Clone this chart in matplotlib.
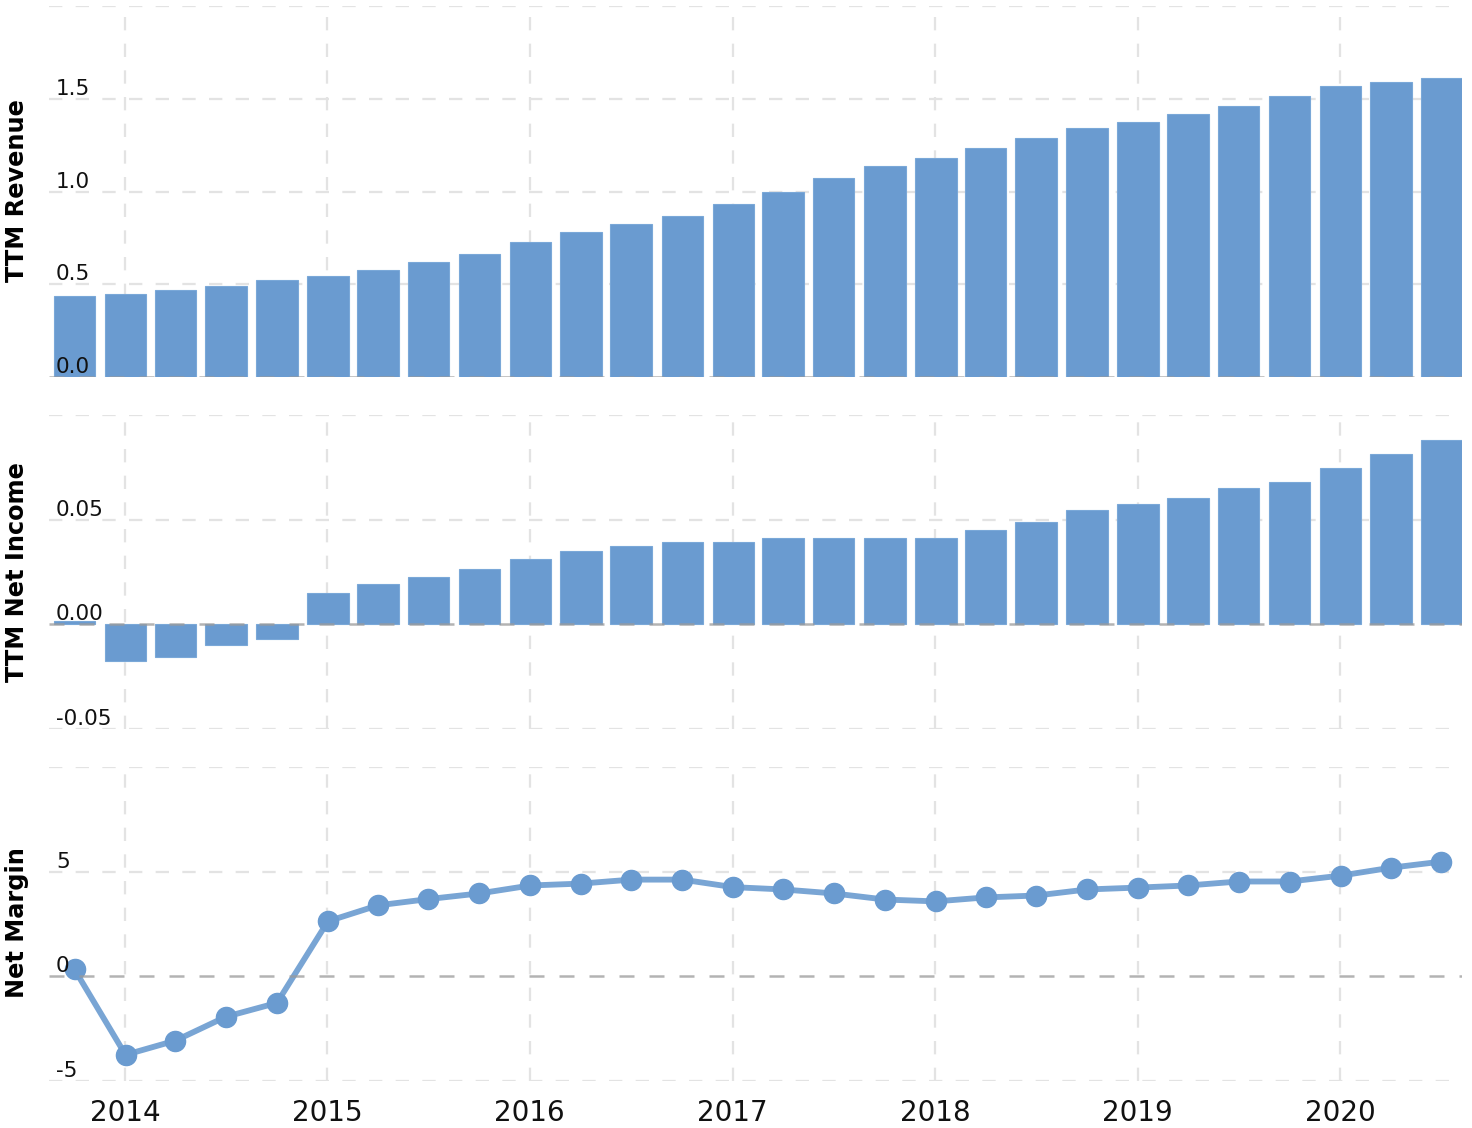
import matplotlib
matplotlib.use("Agg")
import matplotlib.pyplot as plt
import matplotlib.dates as mdates
import numpy as np
import pandas as pd

dates = pd.date_range("2013-09-30", "2020-06-30", freq="QE")
revenue = [0.436, 0.447, 0.469, 0.490, 0.523, 0.544, 0.577, 0.620, 0.663, 0.727,
           0.781, 0.824, 0.867, 0.932, 0.997, 1.072, 1.137, 1.180, 1.234, 1.288,
           1.342, 1.374, 1.417, 1.460, 1.514, 1.568, 1.589, 1.611]
net_income = [0.0014, -0.0175, -0.0156, -0.0099, -0.0070, 0.0148, 0.0195, 0.0224, 0.0262, 0.0310,
              0.0348, 0.0376, 0.0395, 0.0395, 0.0414, 0.0414, 0.0414, 0.0414, 0.0452, 0.0490,
              0.0548, 0.0576, 0.0605, 0.0652, 0.0681, 0.0748, 0.0814, 0.0881]
net_margin = [0.33, -3.75, -3.07, -1.93, -1.27, 2.63, 3.39, 3.69, 3.96, 4.34,
              4.43, 4.62, 4.62, 4.26, 4.15, 3.96, 3.67, 3.58, 3.77, 3.86,
              4.15, 4.24, 4.34, 4.53, 4.53, 4.81, 5.19, 5.48]

rev_ticks = [0.0, 0.5, 1.0, 1.5]
rev_labels = ["0.0", "0.5", "1.0", "1.5"]
ni_ticks = [-0.05, 0.0, 0.05]
ni_labels = ["-0.05", "0.00", "0.05"]
nm_ticks = [-5, 0, 5]
nm_labels = ["-5", "0", "5"]
year_ticks = [str(y) for y in range(2014, 2021)]

BLUE = "#6a9bd0"
GRID = "#e3e3e3"

W, H = 1472, 1128
fig = plt.figure(figsize=(W / 100, H / 100), dpi=100)

def px_axes(top, bottom, left=49, right=1462):
    return [left / W, 1 - bottom / H, (right - left) / W, (bottom - top) / H]

ax1 = fig.add_axes(px_axes(6, 377))
ax2 = fig.add_axes(px_axes(415, 729), sharex=ax1)
ax3 = fig.add_axes(px_axes(767, 1081), sharex=ax1)

x = mdates.date2num(dates.to_pydatetime()) + 2
bar_w = 75

ax1.bar(x, revenue, width=bar_w, color=BLUE, edgecolor="#7aa8d8", linewidth=0.8, zorder=2)
ax2.bar(x, net_income, width=bar_w, color=BLUE, edgecolor="#7aa8d8", linewidth=0.8, zorder=2)
ax3.plot(x, net_margin, color=BLUE, lw=4.2, alpha=0.9, zorder=3, solid_capstyle="round")
ax3.plot(x, net_margin, ls="none", marker="o", ms=14.5, color=BLUE, zorder=4)

ax1.set_ylim(0, 2.0)
ax2.set_ylim(-0.05, 0.10)
ax3.set_ylim(-5, 10)

ax1.set_xlim(mdates.datestr2num("2013-08-17"), mdates.datestr2num("2020-08-08"))

grid_y = {ax1: [0.5, 1.0, 1.5, 2.0], ax2: [-0.05, 0.05, 0.10], ax3: [-5, 5, 10]}
year_x = [mdates.datestr2num(f"{y}-01-01") for y in range(2014, 2021)]

for ax in (ax1, ax2, ax3):
    for s in ax.spines.values():
        s.set_visible(False)
    ax.set_yticks([])
    ax.tick_params(axis="x", length=0)
    for gy in grid_y[ax]:
        ax.axhline(gy, color=GRID, lw=1.6, dashes=(6, 6), zorder=1)
    for gx in year_x:
        ax.axvline(gx, color=GRID, lw=1.6, dashes=(6, 6), zorder=1)
    ax.axhline(0, color="#9a9a9a", lw=1.8, dashes=(6, 6), alpha=0.75, zorder=5)

for ax, ticks, labels in ((ax1, rev_ticks, rev_labels), (ax2, ni_ticks, ni_labels), (ax3, nm_ticks, nm_labels)):
    tr = ax.get_yaxis_transform()
    for t, l in zip(ticks, labels):
        ax.text(0.005, t, l, transform=tr, ha="left", va="bottom", fontsize=15.5,
                color="#111111", zorder=6)

ax1.tick_params(axis="x", labelbottom=False)
ax2.tick_params(axis="x", labelbottom=False)
ax3.set_xticks(year_x)
ax3.set_xticklabels(year_ticks, fontsize=20, color="#111111")
ax3.tick_params(axis="x", pad=13)

fig.text(17 / W, 1 - 191 / H, "TTM Revenue", rotation=90, ha="center", va="center",
         fontsize=17.3, fontweight="bold")
fig.text(17 / W, 1 - 572 / H, "TTM Net Income", rotation=90, ha="center", va="center",
         fontsize=17.3, fontweight="bold")
fig.text(17 / W, 1 - 923 / H, "Net Margin", rotation=90, ha="center", va="center",
         fontsize=17.3, fontweight="bold")

fig.savefig("out.png", dpi=100)
